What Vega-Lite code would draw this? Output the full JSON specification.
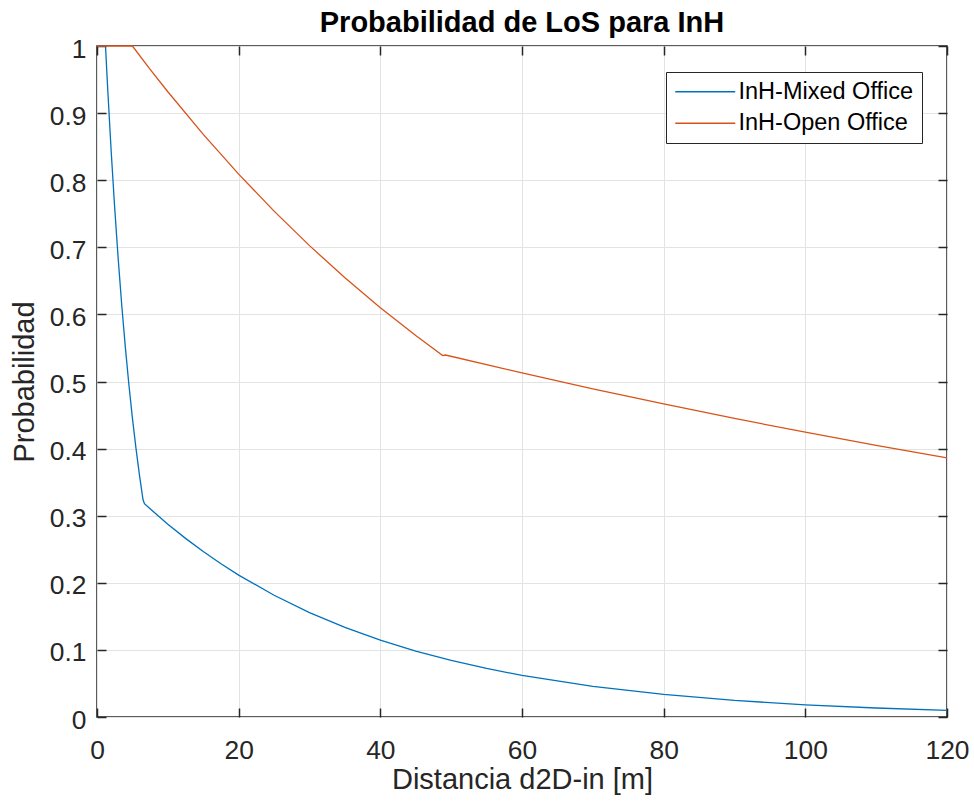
{
  "$schema": "https://vega.github.io/schema/vega-lite/v6.json",
  "width": 850,
  "height": 671,
  "autosize": {"type": "none"},
  "padding": {"left": 97, "top": 46, "right": 27, "bottom": 88},
  "background": "white",
  "config": {
    "font": "Liberation Sans",
    "view": {"stroke": "#262626", "strokeWidth": 1.5}
  },
  "title": {
    "text": "Probabilidad de LoS para InH",
    "fontSize": 29,
    "fontWeight": "bold",
    "color": "#000000",
    "font": "Liberation Sans",
    "frame": "group",
    "anchor": "middle",
    "offset": -2
  },
  "data": {
    "values": [
      {"serie": "InH-Mixed Office", "o": 1, "d": 0, "p": 1},
      {"serie": "InH-Mixed Office", "o": 2, "d": 1.2, "p": 1},
      {"serie": "InH-Mixed Office", "o": 3, "d": 1.5, "p": 0.9382},
      {"serie": "InH-Mixed Office", "o": 4, "d": 2, "p": 0.8435},
      {"serie": "InH-Mixed Office", "o": 5, "d": 2.5, "p": 0.7584},
      {"serie": "InH-Mixed Office", "o": 6, "d": 3, "p": 0.6818},
      {"serie": "InH-Mixed Office", "o": 7, "d": 3.5, "p": 0.613},
      {"serie": "InH-Mixed Office", "o": 8, "d": 4, "p": 0.5512},
      {"serie": "InH-Mixed Office", "o": 9, "d": 4.5, "p": 0.4955},
      {"serie": "InH-Mixed Office", "o": 10, "d": 5, "p": 0.4455},
      {"serie": "InH-Mixed Office", "o": 11, "d": 5.5, "p": 0.4006},
      {"serie": "InH-Mixed Office", "o": 12, "d": 6, "p": 0.3601},
      {"serie": "InH-Mixed Office", "o": 13, "d": 6.5, "p": 0.3238},
      {"serie": "InH-Mixed Office", "o": 14, "d": 6.7, "p": 0.318},
      {"serie": "InH-Mixed Office", "o": 15, "d": 7.5, "p": 0.3103},
      {"serie": "InH-Mixed Office", "o": 16, "d": 8.5, "p": 0.301},
      {"serie": "InH-Mixed Office", "o": 17, "d": 10, "p": 0.2874},
      {"serie": "InH-Mixed Office", "o": 18, "d": 12.5, "p": 0.2662},
      {"serie": "InH-Mixed Office", "o": 19, "d": 15, "p": 0.2466},
      {"serie": "InH-Mixed Office", "o": 20, "d": 17.5, "p": 0.2284},
      {"serie": "InH-Mixed Office", "o": 21, "d": 20, "p": 0.2115},
      {"serie": "InH-Mixed Office", "o": 22, "d": 25, "p": 0.1814},
      {"serie": "InH-Mixed Office", "o": 23, "d": 30, "p": 0.1556},
      {"serie": "InH-Mixed Office", "o": 24, "d": 35, "p": 0.1335},
      {"serie": "InH-Mixed Office", "o": 25, "d": 40, "p": 0.1145},
      {"serie": "InH-Mixed Office", "o": 26, "d": 45, "p": 0.0982},
      {"serie": "InH-Mixed Office", "o": 27, "d": 50, "p": 0.0843},
      {"serie": "InH-Mixed Office", "o": 28, "d": 55, "p": 0.0723},
      {"serie": "InH-Mixed Office", "o": 29, "d": 60, "p": 0.062},
      {"serie": "InH-Mixed Office", "o": 30, "d": 70, "p": 0.0456},
      {"serie": "InH-Mixed Office", "o": 31, "d": 80, "p": 0.0336},
      {"serie": "InH-Mixed Office", "o": 32, "d": 90, "p": 0.0247},
      {"serie": "InH-Mixed Office", "o": 33, "d": 100, "p": 0.0182},
      {"serie": "InH-Mixed Office", "o": 34, "d": 110, "p": 0.0134},
      {"serie": "InH-Mixed Office", "o": 35, "d": 120, "p": 0.0098},
      {"serie": "InH-Open Office", "o": 1, "d": 0, "p": 1},
      {"serie": "InH-Open Office", "o": 2, "d": 5, "p": 1},
      {"serie": "InH-Open Office", "o": 3, "d": 7.5, "p": 0.9653},
      {"serie": "InH-Open Office", "o": 4, "d": 10, "p": 0.9318},
      {"serie": "InH-Open Office", "o": 5, "d": 15, "p": 0.8683},
      {"serie": "InH-Open Office", "o": 6, "d": 20, "p": 0.8091},
      {"serie": "InH-Open Office", "o": 7, "d": 25, "p": 0.7539},
      {"serie": "InH-Open Office", "o": 8, "d": 30, "p": 0.7025},
      {"serie": "InH-Open Office", "o": 9, "d": 35, "p": 0.6546},
      {"serie": "InH-Open Office", "o": 10, "d": 40, "p": 0.61},
      {"serie": "InH-Open Office", "o": 11, "d": 45, "p": 0.5684},
      {"serie": "InH-Open Office", "o": 12, "d": 48.8, "p": 0.5386},
      {"serie": "InH-Open Office", "o": 13, "d": 49.2, "p": 0.5395},
      {"serie": "InH-Open Office", "o": 14, "d": 60, "p": 0.5127},
      {"serie": "InH-Open Office", "o": 15, "d": 70, "p": 0.489},
      {"serie": "InH-Open Office", "o": 16, "d": 80, "p": 0.4665},
      {"serie": "InH-Open Office", "o": 17, "d": 90, "p": 0.4449},
      {"serie": "InH-Open Office", "o": 18, "d": 100, "p": 0.4244},
      {"serie": "InH-Open Office", "o": 19, "d": 110, "p": 0.4048},
      {"serie": "InH-Open Office", "o": 20, "d": 120, "p": 0.3862}
    ]
  },
  "layer": [
    {
      "mark": {"type": "line", "strokeWidth": 1.3},
      "encoding": {
        "x": {
          "field": "d",
          "type": "quantitative",
          "scale": {"domain": [0, 120], "nice": false, "zero": false},
          "axis": {
            "orient": "bottom",
            "values": [0, 20, 40, 60, 80, 100, 120],
            "format": "~r",
            "title": "Distancia d2D-in [m]",
            "titleFont": "Liberation Sans",
            "titleFontSize": 29,
            "titleFontWeight": "normal",
            "titleColor": "#262626",
            "titleBaseline": "alphabetic",
            "titlePadding": 25,
            "labelFont": "Liberation Sans",
            "labelFontSize": 26.4,
            "labelColor": "#262626",
            "labelPadding": 29,
            "labelFlush": false,
            "labelOverlap": false,
            "tickSize": -9,
            "tickColor": "#262626",
            "tickWidth": 1.5,
            "domain": false,
            "grid": true,
            "gridColor": "#e3e3e3",
            "gridWidth": 1
          }
        },
        "y": {
          "field": "p",
          "type": "quantitative",
          "scale": {"domain": [0, 1], "nice": false},
          "axis": {
            "orient": "left",
            "values": [0, 0.1, 0.2, 0.3, 0.4, 0.5, 0.6, 0.7, 0.8, 0.9, 1],
            "format": "~r",
            "title": "Probabilidad",
            "titleFont": "Liberation Sans",
            "titleFontSize": 29,
            "titleFontWeight": "normal",
            "titleColor": "#262626",
            "titleBaseline": "alphabetic",
            "titlePadding": 16,
            "labelFont": "Liberation Sans",
            "labelFontSize": 26.4,
            "labelColor": "#262626",
            "labelPadding": 20,
            "labelOffset": 3,
            "labelFlush": false,
            "labelOverlap": false,
            "tickSize": -9,
            "tickColor": "#262626",
            "tickWidth": 1.5,
            "domain": false,
            "grid": true,
            "gridColor": "#e3e3e3",
            "gridWidth": 1
          }
        },
        "color": {
          "field": "serie",
          "type": "nominal",
          "scale": {
            "domain": ["InH-Mixed Office", "InH-Open Office"],
            "range": ["#0072BD", "#D95319"]
          },
          "legend": {
            "title": null,
            "orient": "none",
            "legendX": 569,
            "legendY": 26,
            "strokeColor": "#262626",
            "fillColor": "white",
            "padding": 8,
            "symbolType": "M-3,0H3",
            "symbolSize": 400,
            "symbolStrokeWidth": 1.3,
            "symbolOffset": 19.5,
            "labelFont": "Liberation Sans",
            "labelFontSize": 23.5,
            "labelColor": "#000000",
            "labelOffset": 21.5,
            "labelLimit": 400,
            "rowPadding": 6.5
          }
        },
        "order": {"field": "o", "type": "quantitative"}
      }
    },
    {
      "mark": {"type": "line", "opacity": 0},
      "encoding": {
        "x": {
          "field": "d",
          "type": "quantitative",
          "axis": {
            "orient": "top",
            "values": [0, 20, 40, 60, 80, 100, 120],
            "labels": false,
            "title": null,
            "tickSize": -9,
            "tickColor": "#262626",
            "tickWidth": 1.5,
            "domain": false,
            "grid": false
          }
        },
        "y": {
          "field": "p",
          "type": "quantitative",
          "axis": {
            "orient": "right",
            "values": [0, 0.1, 0.2, 0.3, 0.4, 0.5, 0.6, 0.7, 0.8, 0.9, 1],
            "labels": false,
            "title": null,
            "tickSize": -9,
            "tickColor": "#262626",
            "tickWidth": 1.5,
            "domain": false,
            "grid": false
          }
        },
        "detail": {"field": "serie", "type": "nominal"},
        "order": {"field": "o", "type": "quantitative"}
      }
    }
  ],
  "resolve": {"axis": {"x": "independent", "y": "independent"}}
}
